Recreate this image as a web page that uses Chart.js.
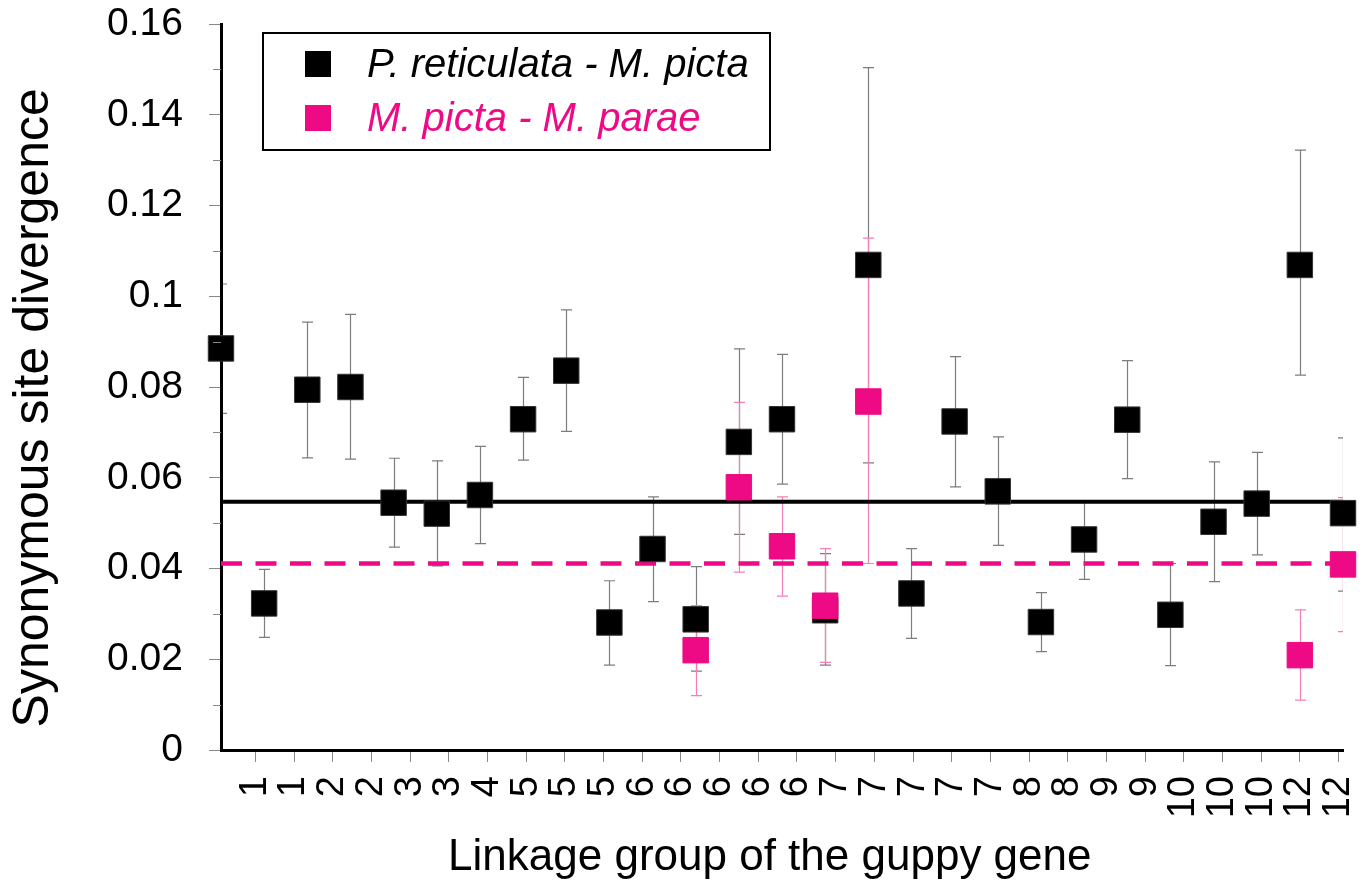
<!DOCTYPE html>
<html>
<head>
<meta charset="utf-8">
<script src="https://cdn.jsdelivr.net/npm/chart.js@4.4.1/dist/chart.umd.min.js"></script>
<style>
html,body{margin:0;padding:0;background:#fff;}
#wrap{width:1368px;height:888px;}
</style>
</head>
<body>
<div id="wrap"><canvas id="c" width="1368" height="888"></canvas></div>
<script>
// ---- data ----
const tickLabels = ['1','1','2','2','3','3','4','5','5','5','6','6','6','6','6','7','7','7','7','7','8','8','9','9','10','10','10','12','12'];

const reticulataPicta      = [0.0885,0.0323,0.0794,0.0800,0.0545,0.0521,0.0562,0.0729,0.0836,0.0281,0.0443,0.0288,0.0679,0.0729,0.0308,0.1069,0.0345,0.0724,0.0570,0.0282,0.0464,0.0728,0.0298,0.0503,0.0543,0.1069,0.0522];
const reticulataPictaUpper = [0.1027,0.0398,0.0943,0.0960,0.0643,0.0637,0.0669,0.0821,0.0970,0.0373,0.0558,0.0404,0.0884,0.0872,0.0433,0.1504,0.0444,0.0867,0.0690,0.0347,0.0547,0.0858,0.0411,0.0635,0.0656,0.1322,0.0688];
const reticulataPictaLower = [0.0742,0.0248,0.0644,0.0641,0.0447,0.0406,0.0455,0.0639,0.0702,0.0187,0.0327,0.0174,0.0475,0.0586,0.0187,0.0633,0.0246,0.0580,0.0451,0.0217,0.0376,0.0598,0.0186,0.0371,0.0430,0.0826,0.0350];

const pictaParae      = [null,null,null,null,null,null,null,null,null,null,null,0.0220,0.0579,0.0449,0.0318,0.0768,null,null,null,null,null,null,null,null,null,0.0209,0.0409];
const pictaParaeUpper = [null,null,null,null,null,null,null,null,null,null,null,0.0318,0.0766,0.0558,0.0444,0.1128,null,null,null,null,null,null,null,null,null,0.0309,0.0556];
const pictaParaeLower = [null,null,null,null,null,null,null,null,null,null,null,0.0120,0.0392,0.0339,0.0193,0.0411,null,null,null,null,null,null,null,null,null,0.0110,0.0261];

const reticulataPictaMean = 0.0547;
const pictaParaeMean = 0.0411;

const yMin = 0, yMax = 0.16, yStep = 0.02;

// ---- styling ----
const FAMILY = '"Liberation Sans", Arial, Helvetica, sans-serif';
const PINK = '#ee0a84';
Chart.defaults.font.family = FAMILY;
Chart.defaults.color = '#000';

const toPoints = (vals, hi, lo) => vals.map((v, i) => ({x: i, y: v, hi: hi[i], lo: lo[i]})).filter(p => p.y !== null);
const lastIndex = reticulataPicta.length - 1;

// error bars drawn beneath axes, through the scales
const errorBars = {
  id: 'errorBars',
  beforeDraw(chart) {
    const {ctx, chartArea: a, scales} = chart;
    const xs = scales.x, ys = scales.y;
    ctx.save();
    ctx.beginPath();
    ctx.rect(a.left, a.top, a.right - a.left, a.bottom - a.top);
    ctx.clip();
    chart.data.datasets.forEach(ds => {
      if (!ds.errColor) return;
      ctx.strokeStyle = ds.errColor;
      ctx.lineWidth = 1.2;
      ds.data.forEach(p => {
        const px = Math.round(xs.getPixelForValue(p.x)) + 0.5;
        const yh = ys.getPixelForValue(p.hi);
        const yl = ys.getPixelForValue(p.lo);
        ctx.beginPath();
        ctx.moveTo(px, yh); ctx.lineTo(px, yl);
        ctx.moveTo(px - 5.5, yh); ctx.lineTo(px + 5.5, yh);
        ctx.moveTo(px - 5.5, yl); ctx.lineTo(px + 5.5, yl);
        ctx.stroke();
      });
    });
    ctx.restore();
  }
};

// minor ticks halfway between labelled y ticks
const minorTicks = {
  id: 'minorTicks',
  afterDraw(chart) {
    const {ctx, scales: {y}, chartArea: a} = chart;
    ctx.save();
    ctx.strokeStyle = '#888';
    ctx.lineWidth = 1;
    for (let v = yMin + yStep / 2; v < yMax; v += yStep) {
      const py = Math.round(y.getPixelForValue(v)) + 0.5;
      ctx.beginPath();
      ctx.moveTo(a.left - 8, py); ctx.lineTo(a.left, py);
      ctx.stroke();
    }
    ctx.restore();
  }
};

// boxed legend inside the plot
const boxLegend = {
  id: 'boxLegend',
  afterDraw(chart, args, o) {
    const {ctx} = chart;
    const items = chart.data.datasets.filter(d => d.inLegend);
    ctx.save();
    ctx.lineWidth = 2;
    ctx.strokeStyle = '#000';
    ctx.strokeRect(o.x, o.y, o.w, o.h);
    ctx.font = 'italic ' + o.fontSize + 'px ' + FAMILY;
    ctx.textBaseline = 'alphabetic';
    ctx.textAlign = 'left';
    items.forEach((d, i) => {
      const top = o.y + o.rowTop + i * o.rowGap;
      ctx.fillStyle = d.backgroundColor;
      ctx.fillRect(o.markerX, top, o.marker, o.marker);
      ctx.fillText(d.label, o.textX, top + o.marker);
    });
    ctx.restore();
  }
};

new Chart(document.getElementById('c'), {
  type: 'scatter',
  data: {
    datasets: [
      {
        label: 'P. reticulata - M. picta', inLegend: true,
        data: toPoints(reticulataPicta, reticulataPictaUpper, reticulataPictaLower),
        xAxisID: 'x', yAxisID: 'y',
        backgroundColor: '#000', borderColor: '#333', borderWidth: 1,
        pointStyle: 'rect', pointRadius: 18, pointHoverRadius: 18,
        errColor: '#7d7d7d', order: 2, clip: false
      },
      {
        label: 'M. picta - M. parae', inLegend: true,
        data: toPoints(pictaParae, pictaParaeUpper, pictaParaeLower),
        xAxisID: 'x', yAxisID: 'y',
        backgroundColor: PINK, borderColor: PINK, borderWidth: 1,
        pointStyle: 'rect', pointRadius: 18, pointHoverRadius: 18,
        errColor: '#f27fb9', order: 1, clip: false
      },
      {
        label: 'mean P. reticulata - M. picta', type: 'line',
        data: [{x: 0, y: reticulataPictaMean}, {x: lastIndex, y: reticulataPictaMean}],
        xAxisID: 'x', yAxisID: 'y',
        borderColor: '#000', borderWidth: 4, pointRadius: 0, order: 3, clip: false
      },
      {
        label: 'mean M. picta - M. parae', type: 'line',
        data: [{x: 0, y: pictaParaeMean}, {x: lastIndex, y: pictaParaeMean}],
        xAxisID: 'x', yAxisID: 'y',
        borderColor: PINK, borderWidth: 4.5, borderDash: [21, 13.5], pointRadius: 0, order: 3, clip: false
      }
    ]
  },
  options: {
    responsive: false,
    animation: false,
    devicePixelRatio: 1,
    layout: {padding: {top: 24, right: 25, left: 0, bottom: 0}},
    plugins: {
      legend: {display: false},
      tooltip: {enabled: false},
      boxLegend: {x: 263, y: 33, w: 507, h: 117, rowTop: 18, rowGap: 54, marker: 26, markerX: 305, textX: 367, fontSize: 40}
    },
    scales: {
      x: {type: 'linear', min: 0, max: lastIndex, display: false},
      xt: {
        type: 'linear', position: 'bottom',
        min: -0.887, max: tickLabels.length - 0.887,
        afterBuildTicks: s => { s.ticks = tickLabels.map((_, i) => ({value: i})); },
        afterFit: s => { s.height = 138; s.paddingLeft = 0; s.paddingRight = 0; },
        ticks: {
          autoSkip: false, minRotation: 90, maxRotation: 90, padding: 14,
          color: '#000', font: {size: 38},
          callback: v => tickLabels[Math.round(v)]
        },
        grid: {drawOnChartArea: false, tickLength: 12, tickColor: '#888', tickWidth: 1},
        border: {display: true, color: '#000', width: 3},
        title: {display: true, text: 'Linkage group of the guppy gene  ', color: '#000', font: {size: 44}, padding: {top: 0, bottom: 4}}
      },
      y: {
        type: 'linear', min: yMin, max: yMax,
        afterFit: s => { s.width = 221; s.paddingTop = 0; s.paddingBottom = 0; },
        ticks: {stepSize: yStep, padding: 26, color: '#000', font: {size: 39}, callback: v => String(+v.toFixed(2))},
        grid: {drawOnChartArea: false, tickLength: 12, tickColor: '#888', tickWidth: 1},
        border: {display: true, color: '#000', width: 3},
        title: {display: true, text: 'Synonymous site divergence   ', color: '#000', font: {size: 50}, padding: {top: 4, bottom: 0}}
      }
    }
  },
  plugins: [errorBars, minorTicks, boxLegend]
});
</script>
</body>
</html>
